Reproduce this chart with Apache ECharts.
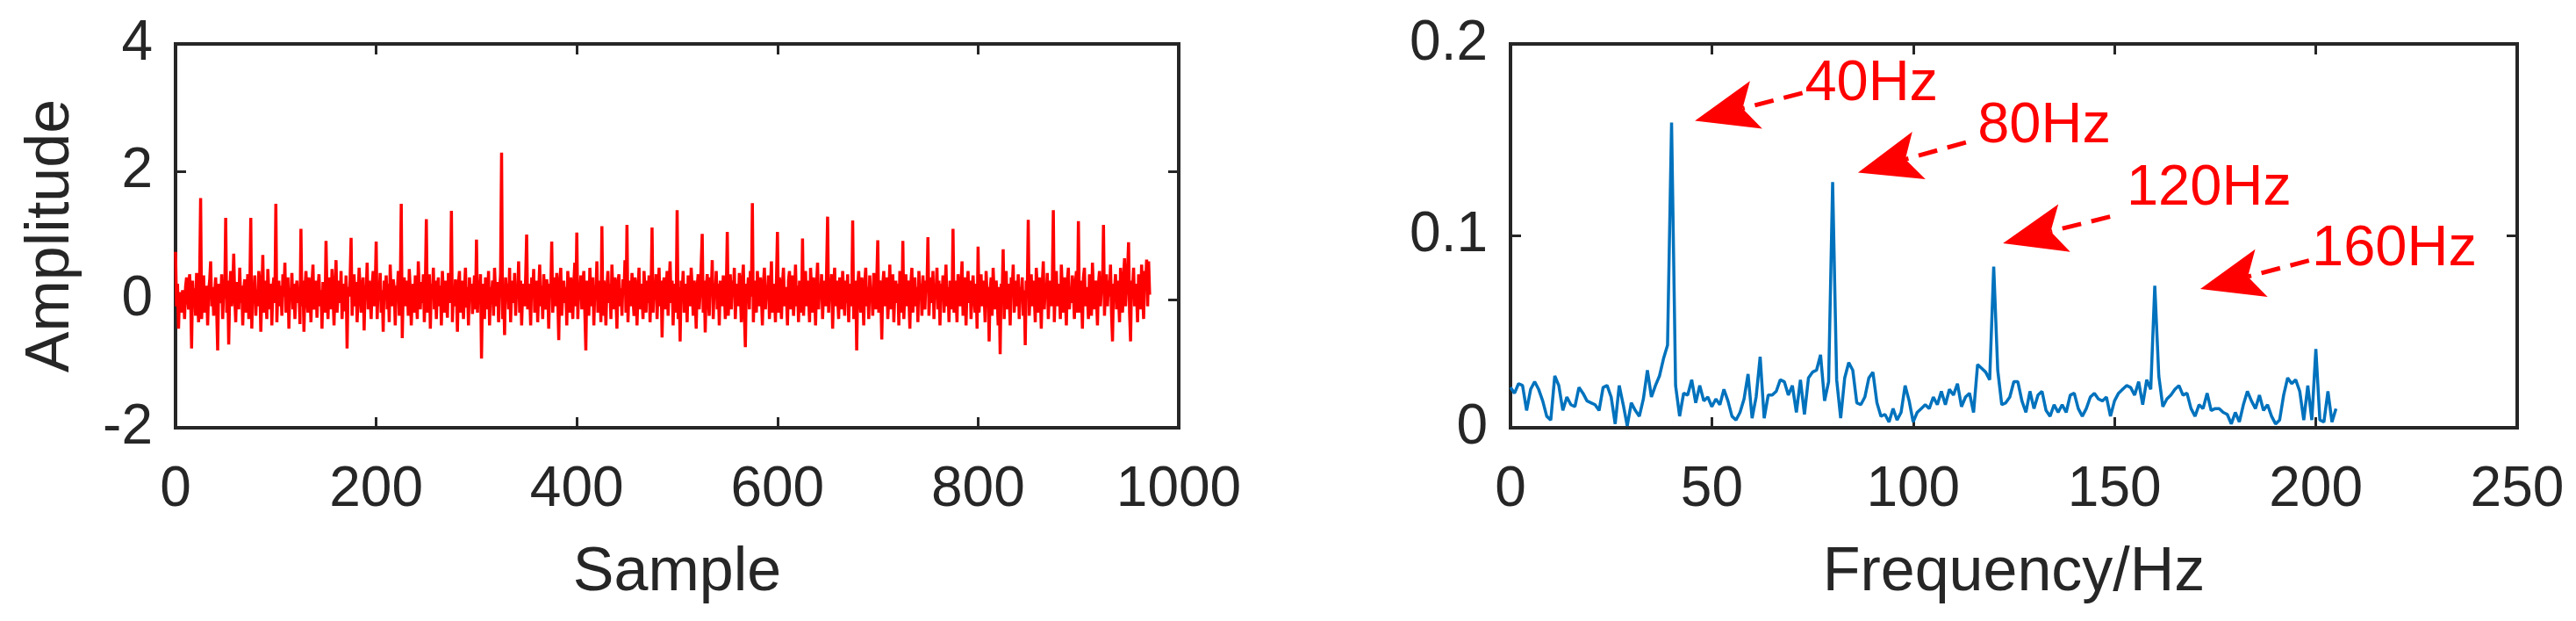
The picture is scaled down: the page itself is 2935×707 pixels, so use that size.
<!DOCTYPE html>
<html>
<head>
<meta charset="utf-8">
<title>Signal and spectrum</title>
<script src="https://cdn.jsdelivr.net/npm/echarts@6/dist/echarts.min.js"></script>
<style>
  html, body { margin: 0; padding: 0; background: #fff; }
  #main { width: 2935px; height: 707px; }
</style>
</head>
<body>
<div id="main"></div>
<script>
// time signal, one value per sample (impulse every 25 samples)
const signal = [
  0.75, -0.1, 0.25, -0.45, 0.12, 0.05, -0.2, 0.15, 0.1, -0.3, 0.2, 0.35, 0.05, -0.15, 0.4, 0.1, -0.76, 0.3, -0.05, 0.18, -0.25, 0.42, 0.02, -0.35, 0.28,
  1.59, -0.3, 0.1, 0.38, -0.2, 0.05, 0.22, -0.4, 0.15, 0.3, 0.6, -0.1, 0.2, -0.25, 0.08, 0.35, -0.15, -0.79, 0.25, 0.1, -0.05, 0.4, -0.3, 0.18, 0.02,
  1.28, -0.2, 0.3, -0.7, 0.12, 0.45, -0.1, 0.2, 0.72, 0.05, -0.35, 0.28, 0.1, -0.15, 0.5, -0.05, 0.22, -0.4, 0.15, 0.32, -0.2, 0.08, 0.4, -0.3, 0.12,
  1.28, -0.45, 0.2, 0.05, 0.38, -0.25, 0.15, -0.1, 0.45, 0.25, -0.5, 0.1, 0.7, -0.2, 0.3, 0.05, -0.3, 0.48, 0.12, -0.15, 0.25, -0.4, 0.2, 0.35, -0.05,
  1.5, -0.35, 0.15, 0.3, -0.1, 0.22, -0.25, 0.4, 0.05, 0.58, -0.2, 0.1, 0.35, -0.45, 0.18, 0.05, 0.42, -0.15, 0.25, -0.3, 0.12, 0.3, -0.05, 0.2, -0.38,
  1.11, -0.1, 0.3, -0.5, 0.15, 0.45, 0.05, -0.2, 0.35, 0.1, -0.35, 0.25, 0.55, -0.15, 0.02, 0.3, -0.28, 0.18, 0.4, -0.1, 0.15, -0.45, 0.28, 0.08, -0.2,
  0.92, 0.1, -0.3, 0.35, 0.2, -0.15, 0.48, 0.05, -0.4, 0.22, 0.62, -0.2, 0.1, 0.3, -0.05, 0.45, -0.3, 0.15, 0.25, -0.18, 0.38, -0.76, 0.2, 0.05, 0.32,
  0.97, -0.25, 0.15, 0.4, -0.1, 0.28, -0.35, 0.05, 0.5, 0.2, -0.2, 0.12, 0.35, -0.48, 0.22, 0.08, 0.58, -0.15, 0.3, 0.02, -0.3, 0.25, 0.45, -0.1, 0.15,
  0.91, -0.3, 0.2, 0.05, 0.42, -0.2, 0.15, -0.5, 0.3, 0.1, 0.38, -0.15, 0.25, -0.35, 0.55, 0.05, -0.1, 0.32, 0.18, -0.4, 0.22, 0.08, 0.45, -0.25, 0.12,
  1.5, -0.6, 0.2, 0.35, -0.1, 0.05, 0.3, -0.25, 0.48, 0.15, -0.4, 0.1, 0.25, -0.2, 0.38, 0.02, -0.3, 0.6, 0.12, -0.15, 0.28, -0.05, 0.4, -0.35, 0.2,
  1.26, -0.2, 0.1, 0.4, -0.45, 0.25, 0.05, 0.5, -0.15, 0.3, -0.3, 0.18, 0.35, -0.1, 0.22, -0.4, 0.45, 0.1, -0.2, 0.3, 0.05, -0.28, 0.42, 0.15, -0.05,
  1.39, -0.35, 0.2, -0.1, 0.32, 0.12, -0.5, 0.25, 0.45, -0.2, 0.08, 0.3, -0.3, 0.15, 0.5, -0.12, 0.2, -0.4, 0.35, 0.05, 0.25, -0.22, 0.1, 0.38, -0.15,
  0.94, -0.2, 0.3, 0.05, 0.4, -0.92, 0.15, 0.25, -0.3, 0.35, 0.1, -0.15, 0.45, -0.4, 0.2, 0.05, 0.3, -0.25, 0.5, 0.1, -0.1, 0.28, -0.35, 0.15, 0.4,
  2.3, -0.3, 0.2, -0.55, 0.35, 0.1, 0.25, -0.15, 0.5, -0.35, 0.12, 0.3, -0.05, 0.42, -0.25, 0.18, 0.05, 0.6, -0.2, 0.3, -0.4, 0.15, 0.25, -0.1, 0.35,
  1.02, -0.15, 0.25, 0.1, -0.4, 0.35, 0.05, 0.48, -0.2, 0.2, 0.3, -0.35, 0.12, 0.55, -0.1, 0.22, -0.3, 0.4, 0.08, -0.15, 0.32, 0.15, -0.45, 0.25, 0.1,
  0.91, -0.2, 0.15, 0.35, -0.1, 0.42, 0.05, -0.63, 0.28, 0.5, -0.25, 0.1, 0.3, -0.05, 0.2, -0.4, 0.45, 0.12, -0.2, 0.35, 0.05, -0.3, 0.25, 0.58, -0.1,
  1.05, -0.3, 0.2, 0.05, 0.38, -0.15, 0.25, 0.45, -0.2, -0.79, 0.3, 0.1, -0.25, 0.5, 0.15, -0.1, 0.35, -0.4, 0.22, 0.05, 0.6, -0.2, 0.12, 0.3, -0.35,
  1.15, -0.25, 0.3, 0.1, -0.4, 0.2, 0.45, -0.05, 0.25, -0.3, 0.55, 0.12, -0.15, 0.35, 0.05, -0.45, 0.28, 0.4, -0.1, 0.18, -0.25, 0.32, 0.08, 0.62, -0.2,
  1.17, -0.35, 0.15, 0.3, -0.1, 0.42, 0.05, -0.25, 0.35, 0.2, -0.4, 0.1, 0.5, -0.15, 0.25, 0.05, -0.3, 0.45, 0.15, -0.2, 0.3, -0.05, 0.38, -0.35, 0.12,
  1.13, -0.2, 0.25, 0.05, 0.4, -0.3, 0.15, 0.5, -0.1, 0.3, -0.59, 0.2, 0.35, -0.15, 0.1, 0.45, -0.25, 0.22, 0.6, -0.05, 0.3, -0.4, 0.15, 0.25, -0.2,
  1.4, -0.3, 0.2, -0.65, 0.3, 0.1, 0.45, -0.2, 0.25, 0.05, -0.35, 0.38, 0.15, -0.1, 0.5, 0.2, -0.25, 0.3, 0.05, -0.45, 0.22, 0.4, -0.15, 0.12, 0.55,
  1.03, -0.2, 0.3, -0.51, 0.15, 0.4, 0.05, -0.25, 0.35, 0.1, 0.62, -0.3, 0.2, 0.05, 0.45, -0.15, 0.25, -0.4, 0.3, 0.12, -0.1, 0.38, 0.2, -0.3, 0.15,
  1.06, -0.25, 0.2, 0.4, -0.15, 0.3, 0.05, 0.5, -0.3, 0.15, 0.25, -0.1, 0.42, 0.1, -0.35, 0.3, 0.55, -0.2, -0.74, 0.25, 0.1, 0.35, -0.15, 0.45, 0.05,
  1.51, -0.35, 0.15, 0.3, -0.2, 0.45, 0.1, -0.1, 0.35, 0.05, -0.4, 0.25, 0.5, -0.15, 0.2, 0.05, 0.38, -0.3, 0.15, 0.6, -0.2, 0.25, 0.1, -0.35, 0.3,
  1.06, -0.2, 0.35, 0.1, -0.3, 0.25, 0.5, -0.1, 0.2, 0.05, -0.4, 0.3, 0.45, -0.15, 0.15, 0.38, -0.25, 0.05, 0.55, -0.1, 0.22, -0.35, 0.3, 0.1, -0.2,
  0.96, -0.25, 0.2, 0.45, -0.1, 0.3, 0.05, -0.35, 0.5, 0.15, -0.2, 0.35, 0.1, -0.4, 0.25, 0.58, -0.15, 0.2, 0.05, 0.4, -0.3, 0.15, 0.3, -0.1, 0.45,
  1.3, -0.2, 0.25, 0.1, 0.4, -0.45, 0.15, 0.5, -0.1, 0.3, 0.05, -0.3, 0.35, 0.2, -0.15, 0.45, 0.1, -0.25, 0.3, -0.05, 0.4, -0.35, 0.15, 0.25, -0.1,
  1.24, -0.3, 0.15, 0.3, -0.79, 0.2, 0.45, 0.05, -0.2, 0.35, 0.1, -0.4, 0.25, 0.5, -0.1, 0.2, -0.3, 0.38, 0.05, 0.15, -0.25, 0.42, 0.1, -0.15, 0.3,
  0.93, -0.2, 0.3, 0.1, -0.62, 0.25, 0.45, -0.1, 0.15, 0.35, -0.3, 0.05, 0.55, -0.15, 0.2, 0.4, -0.35, 0.1, 0.3, -0.05, 0.25, -0.4, 0.45, 0.15, -0.2,
  0.92, -0.3, 0.2, 0.4, -0.1, 0.3, 0.05, -0.45, 0.25, 0.5, -0.2, 0.15, 0.35, -0.1, 0.2, -0.35, 0.45, 0.1, 0.25, -0.25, 0.38, 0.05, -0.15, 0.3, 0.12,
  0.98, -0.25, 0.15, 0.35, -0.05, 0.45, -0.3, 0.2, 0.1, 0.5, -0.15, 0.3, -0.4, 0.25, 0.05, 0.38, -0.2, 0.15, 0.55, -0.1, 0.2, -0.35, 0.3, 0.1, -0.15,
  1.11, -0.2, 0.3, 0.05, -0.35, 0.4, 0.15, -0.1, 0.25, 0.6, -0.25, 0.1, 0.35, -0.4, 0.2, 0.45, -0.05, 0.3, -0.3, 0.15, 0.38, 0.05, -0.2, 0.25, -0.45,
  0.83, -0.2, 0.25, 0.4, -0.1, 0.3, 0.1, -0.35, 0.45, 0.05, 0.2, -0.65, 0.15, 0.35, -0.25, 0.5, 0.1, -0.15, 0.3, 0.05, -0.4, 0.2, -0.85, 0.25, 0.1,
  0.79, -0.3, 0.2, 0.45, -0.15, 0.25, 0.05, -0.4, 0.35, 0.15, 0.55, -0.2, 0.1, 0.3, -0.1, 0.4, -0.3, 0.2, 0.05, 0.35, -0.25, 0.15, -0.71, 0.3, 0.1,
  1.25, -0.25, 0.15, 0.4, -0.1, 0.3, 0.05, -0.35, 0.5, 0.2, -0.2, 0.35, 0.1, -0.45, 0.25, 0.6, -0.15, 0.2, 0.05, 0.42, -0.3, 0.15, 0.3, -0.1, 0.25,
  1.4, -0.35, 0.2, 0.45, -0.1, 0.25, 0.1, -0.3, 0.55, 0.15, -0.2, 0.35, 0.05, -0.4, 0.3, 0.5, -0.15, 0.2, -0.05, 0.38, 0.1, -0.3, 0.25, 0.45, -0.2,
  1.23, -0.2, 0.3, 0.1, -0.45, 0.35, 0.5, -0.1, 0.2, 0.05, -0.3, 0.4, 0.15, -0.25, 0.58, 0.1, -0.15, 0.3, 0.05, -0.4, 0.25, 0.45, -0.1, 0.2, 0.1,
  1.17, -0.25, 0.2, 0.4, -0.1, 0.3, 0.05, 0.55, -0.2, -0.65, 0.25, 0.15, 0.4, -0.15, 0.3, 0.05, -0.35, 0.5, 0.1, -0.2, 0.35, 0.65, -0.1, 0.2, 0.45,
  0.9, -0.2, -0.65, 0.3, 0.15, 0.5, -0.1, 0.25, 0.05, -0.35, 0.4, 0.2, -0.15, 0.55, 0.1, -0.3, 0.45, 0.25, 0.63, -0.1, 0.6, 0.08
];

// amplitude spectrum, 1 Hz per bin starting at 0 Hz
const freqStep = 1;
const spectrum = [
  0.021, 0.018, 0.023, 0.022, 0.009, 0.020, 0.024, 0.020, 0.014, 0.006,
  0.004, 0.027, 0.022, 0.009, 0.016, 0.012, 0.011, 0.021, 0.018, 0.014,
  0.013, 0.012, 0.009, 0.021, 0.022, 0.016, 0.002, 0.022, 0.012, 0.001,
  0.013, 0.009, 0.006, 0.015, 0.030, 0.016, 0.022, 0.027, 0.036, 0.043,
  0.159, 0.022, 0.006, 0.018, 0.017, 0.025, 0.013, 0.022, 0.014, 0.016,
  0.011, 0.015, 0.012, 0.020, 0.014, 0.006, 0.004, 0.008, 0.015, 0.028,
  0.005, 0.016, 0.037, 0.005, 0.017, 0.017, 0.019, 0.025, 0.024, 0.017,
  0.022, 0.008, 0.025, 0.007, 0.026, 0.029, 0.030, 0.038, 0.014, 0.024,
  0.128, 0.025, 0.005, 0.026, 0.034, 0.030, 0.013, 0.012, 0.016, 0.026,
  0.029, 0.013, 0.006, 0.007, 0.003, 0.010, 0.004, 0.008, 0.022, 0.014,
  0.003, 0.008, 0.010, 0.012, 0.010, 0.016, 0.012, 0.019, 0.012, 0.020,
  0.017, 0.023, 0.011, 0.016, 0.018, 0.008, 0.033, 0.031, 0.029, 0.025,
  0.084, 0.030, 0.012, 0.013, 0.016, 0.024, 0.024, 0.014, 0.008, 0.019,
  0.010, 0.017, 0.019, 0.009, 0.006, 0.012, 0.008, 0.012, 0.008, 0.017,
  0.018, 0.010, 0.006, 0.010, 0.016, 0.018, 0.015, 0.014, 0.016, 0.006,
  0.014, 0.018, 0.020, 0.022, 0.021, 0.017, 0.024, 0.012, 0.025, 0.020,
  0.074, 0.027, 0.011, 0.015, 0.017, 0.020, 0.022, 0.017, 0.018, 0.010,
  0.006, 0.012, 0.010, 0.018, 0.009, 0.010, 0.010, 0.008, 0.007, 0.002,
  0.008, 0.003, 0.012, 0.019, 0.014, 0.010, 0.017, 0.009, 0.012, 0.006,
  0.002, 0.004, 0.017, 0.026, 0.023, 0.025, 0.019, 0.004, 0.022, 0.004,
  0.041, 0.004, 0.003, 0.019, 0.003, 0.010
];

// arrow annotations on the spectrum: [Hz, amplitude]
const annLabels = ['40Hz', '80Hz', '120Hz', '160Hz'];
const annTail = [[72.5, 0.1744], [113.1, 0.1487], [148.9, 0.110], [198.3, 0.0871]];
const annTip = [[45.8, 0.160], [86.3, 0.133], [122.3, 0.0961], [171.3, 0.0723]];
const annText = [[73.1, 0.179], [116.0, 0.157], [153.0, 0.1245], [199.0, 0.0929]];

const FONT = '"Liberation Sans", Arial, Helvetica, sans-serif';
const AXIS_COLOR = '#262626';

function boxAxis(gridIndex, position, min, max, interval, main) {
  return {
    type: 'value',
    gridIndex: gridIndex,
    position: position,
    min: min,
    max: max,
    interval: interval,
    splitLine: { show: false },
    axisLine: {
      show: true,
      onZero: false,
      lineStyle: { color: AXIS_COLOR, width: 4, cap: 'square' },
    },
    axisTick: {
      show: true,
      inside: true,
      length: 12,
      lineStyle: { color: AXIS_COLOR, width: 3 },
    },
    axisLabel: {
      show: main,
      color: AXIS_COLOR,
      fontSize: 64,
      fontFamily: FONT,
      margin: position === 'bottom' ? 39 : 26,
      formatter: (v) => String(v),
    },
  };
}

var chartDom = document.getElementById('main');
var myChart = echarts.init(chartDom);

let xLeft = boxAxis(0, 'bottom', 0, 1000, 200, true);
xLeft.name = 'Sample';
xLeft.nameLocation = 'middle';
xLeft.nameGap = 131;
xLeft.nameTextStyle = { color: AXIS_COLOR, fontSize: 70, fontFamily: FONT };

let yLeft = boxAxis(0, 'left', -2, 4, 2, true);
yLeft.name = 'Amplitude';
yLeft.nameLocation = 'middle';
yLeft.nameGap = 106;
yLeft.nameRotate = 90;
yLeft.nameTextStyle = { color: AXIS_COLOR, fontSize: 70, fontFamily: FONT };

let xRight = boxAxis(1, 'bottom', 0, 250, 50, true);
xRight.name = 'Frequency/Hz';
xRight.nameLocation = 'middle';
xRight.nameGap = 131;
xRight.nameTextStyle = { color: AXIS_COLOR, fontSize: 70, fontFamily: FONT };

let yRight = boxAxis(1, 'left', 0, 0.2, 0.1, true);

function renderArrow(params, api) {
  const i = params.dataIndex;
  const p0 = api.coord(annTail[i]);
  const p1 = api.coord(annTip[i]);
  const pt = api.coord(annText[i]);
  const dx = p1[0] - p0[0];
  const dy = p1[1] - p0[1];
  const len = Math.sqrt(dx * dx + dy * dy);
  const ux = dx / len, uy = dy / len;
  const nx = -uy, ny = ux;
  const headLen = 72, halfW = 28, notch = 56;
  const bx = p1[0] - ux * headLen, by = p1[1] - uy * headLen;
  const mx = p1[0] - ux * notch, my = p1[1] - uy * notch;
  return {
    type: 'group',
    children: [
      {
        type: 'line',
        shape: { x1: p0[0], y1: p0[1], x2: mx, y2: my },
        style: { stroke: '#ff0000', lineWidth: 5, lineDash: [22, 12] },
      },
      {
        type: 'polygon',
        shape: {
          points: [
            [p1[0], p1[1]],
            [bx + nx * halfW, by + ny * halfW],
            [mx, my],
            [bx - nx * halfW, by - ny * halfW],
          ],
        },
        style: { fill: '#ff0000' },
      },
      {
        type: 'text',
        style: {
          text: annLabels[i],
          x: pt[0],
          y: pt[1],
          fill: '#ff0000',
          fontSize: 65,
          fontFamily: FONT,
          align: 'left',
          verticalAlign: 'middle',
        },
      },
    ],
  };
}

var option = {
  animation: false,
  backgroundColor: '#ffffff',
  grid: [
    { left: 200, top: 50, width: 1143, height: 437 },
    { left: 1721, top: 50, width: 1147, height: 437 },
  ],
  xAxis: [
    xLeft,
    boxAxis(0, 'top', 0, 1000, 200, false),
    xRight,
    boxAxis(1, 'top', 0, 250, 50, false),
  ],
  yAxis: [
    yLeft,
    boxAxis(0, 'right', -2, 4, 2, false),
    yRight,
    boxAxis(1, 'right', 0, 0.2, 0.1, false),
  ],
  series: [
    {
      type: 'line',
      xAxisIndex: 0,
      yAxisIndex: 0,
      data: signal.map((v, i) => [i, v]),
      showSymbol: false,
      lineStyle: { color: '#ff0000', width: 3.5 },
      itemStyle: { color: '#ff0000' },
      silent: true,
    },
    {
      type: 'line',
      xAxisIndex: 2,
      yAxisIndex: 2,
      data: spectrum.map((v, i) => [i * freqStep, v]),
      showSymbol: false,
      lineStyle: { color: '#0072bd', width: 3.5 },
      itemStyle: { color: '#0072bd' },
      silent: true,
    },
    {
      type: 'custom',
      xAxisIndex: 2,
      yAxisIndex: 2,
      clip: false,
      silent: true,
      renderItem: renderArrow,
      data: annTip,
    },
  ],
};

option && myChart.setOption(option);
</script>
</body>
</html>
